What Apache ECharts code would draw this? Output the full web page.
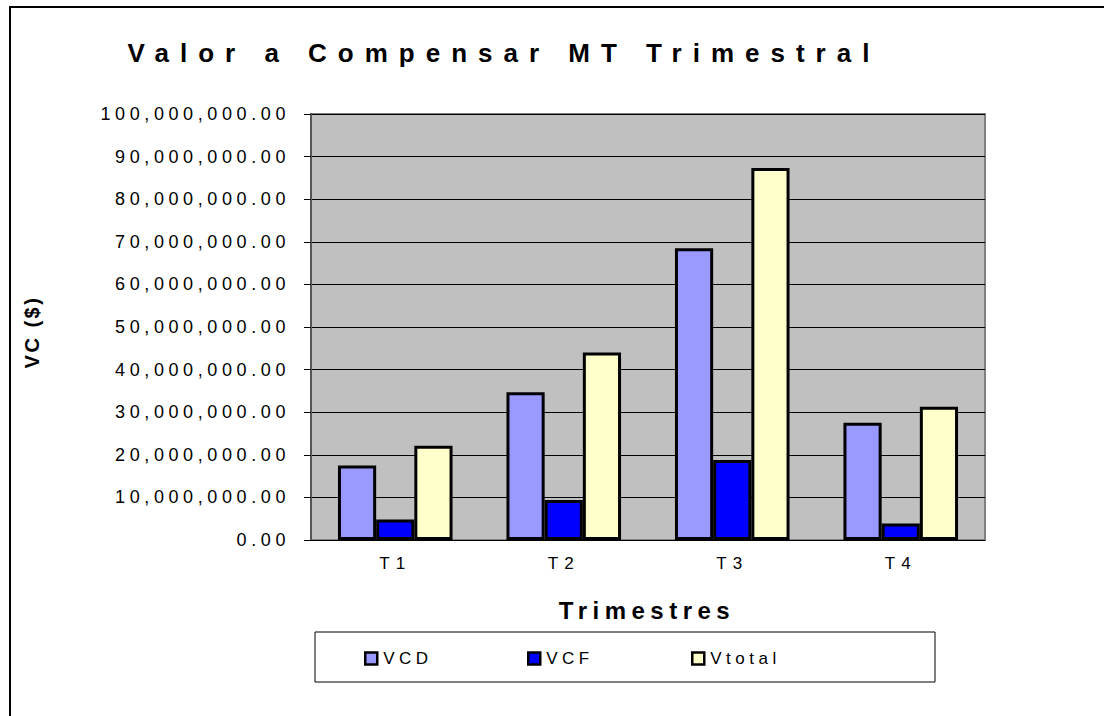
<!DOCTYPE html>
<html>
<head>
<meta charset="utf-8">
<title>Valor a Compensar MT Trimestral</title>
<script src="https://cdn.jsdelivr.net/npm/echarts@6/dist/echarts.min.js"></script>
<style>
  html, body { margin: 0; padding: 0; background: #fff; }
  #chart { width: 1104px; height: 716px; }
</style>
</head>
<body>
<div id="chart"></div>
<script>
    'use strict';
    // datos
    var trimestres = ['T1', 'T2', 'T3', 'T4'];
    var vcd = [17500000, 34700000, 68500000, 27500000];
    var vcf = [4800000, 9400000, 18800000, 3900000];
    var vtotal = [22100000, 44000000, 87300000, 31300000];
    var yTicks = [0, 10000000, 20000000, 30000000, 40000000, 50000000,
        60000000, 70000000, 80000000, 90000000, 100000000];

    var FONT = '"Liberation Sans", Arial, sans-serif';

    function fmt(v) {
        var s = String(Math.round(v)).replace(/\B(?=(\d{3})+(?!\d))/g, ',');
        return s + '.00';
    }

    var barBorder = { borderColor: '#000', borderWidth: 3 };

    var option = {
        animation: false,
        backgroundColor: '#fff',
        textStyle: { fontFamily: FONT },
        grid: { left: 311, right: 119, top: 114, bottom: 176, show: true,
            backgroundColor: '#c0c0c0', borderColor: '#808080', borderWidth: 2 },
        xAxis: {
            type: 'category',
            data: trimestres,
            axisLine: { lineStyle: { color: '#000', width: 1 } },
            axisTick: { length: 6, lineStyle: { color: '#000' } },
            axisLabel: { color: '#000', fontSize: 17, margin: 15, fontFamily: FONT }
        },
        yAxis: {
            type: 'value',
            min: yTicks[0],
            max: yTicks[yTicks.length - 1],
            interval: yTicks[1] - yTicks[0],
            axisLine: { show: true, lineStyle: { color: '#555', width: 2 } },
            axisTick: { show: true, length: 7, lineStyle: { color: '#000' } },
            axisLabel: { color: '#000', fontSize: 18, margin: 21, fontFamily: FONT, formatter: fmt },
            splitLine: { lineStyle: { color: '#000', width: 1 } }
        },
        legend: [
            { name: 'VCD', left: 364 },
            { name: 'VCF', left: 527 },
            { name: 'Vtotal', left: 691 }
        ].map(function (l) {
            return {
                data: [{ name: l.name, itemStyle: { borderColor: '#000', borderWidth: 2.5 } }],
                left: l.left,
                top: 650,
                icon: 'rect',
                itemWidth: 12,
                itemHeight: 12,
                itemGap: 0,
                padding: 0,
                textStyle: { color: '#000', fontSize: 17, fontFamily: FONT, padding: [0, 0, 0, 1] }
            };
        }),
        graphic: [
            { type: 'rect', shape: { x: 10, y: 7, width: 1110, height: 720 }, z: -10,
                style: { fill: null, stroke: '#000', lineWidth: 2 } },
            { type: 'rect', shape: { x: 315, y: 632, width: 620, height: 50 },
                style: { fill: '#fff', stroke: '#000', lineWidth: 1 }, z: -1 },
            { type: 'text', x: 504, y: 53, style: { text: 'Valor a Compensar MT Trimestral',
                font: 'bold 26px ' + FONT, fill: '#000', align: 'center', verticalAlign: 'middle' } },
            { type: 'text', x: 647, y: 610, style: { text: 'Trimestres',
                font: 'bold 24px ' + FONT, fill: '#000', align: 'center', verticalAlign: 'middle' } },
            { type: 'text', x: 32, y: 332, rotation: Math.PI / 2, style: { text: 'VC ($)',
                font: 'bold 20px ' + FONT, fill: '#000', align: 'center', verticalAlign: 'middle' } }
        ],
        series: [
            { name: 'VCD', type: 'bar', data: vcd, barGap: '0%', barCategoryGap: '32%',
                itemStyle: Object.assign({ color: '#9999ff' }, barBorder) },
            { name: 'VCF', type: 'bar', data: vcf,
                itemStyle: Object.assign({ color: '#0000ff' }, barBorder) },
            { name: 'Vtotal', type: 'bar', data: vtotal,
                itemStyle: Object.assign({ color: '#ffffcc' }, barBorder) }
        ]
    };

    var myChart = echarts.init(document.getElementById('chart'), null, { renderer: 'svg' });
    myChart.setOption(option);

    // espaciado de letras como en el original (svg acepta letter-spacing)
    function spacing() {
        var texts = document.querySelectorAll('#chart text');
        for (var i = 0; i < texts.length; i++) {
            var t = texts[i].textContent;
            var sp = 4.6;
            if (t.indexOf('Valor') === 0) sp = 11;
            else if (t === 'Trimestres') sp = 5.5;
            else if (t === 'VC ($)') sp = 2.5;
            else if (t === 'VCD' || t === 'VCF' || t === 'Vtotal') sp = 4.5;
            else if (/^T\d$/.test(t)) sp = 6;
            texts[i].setAttribute('letter-spacing', sp + 'px');
        }
    }
    spacing();
    myChart.on('finished', spacing);
</script>
</body>
</html>
